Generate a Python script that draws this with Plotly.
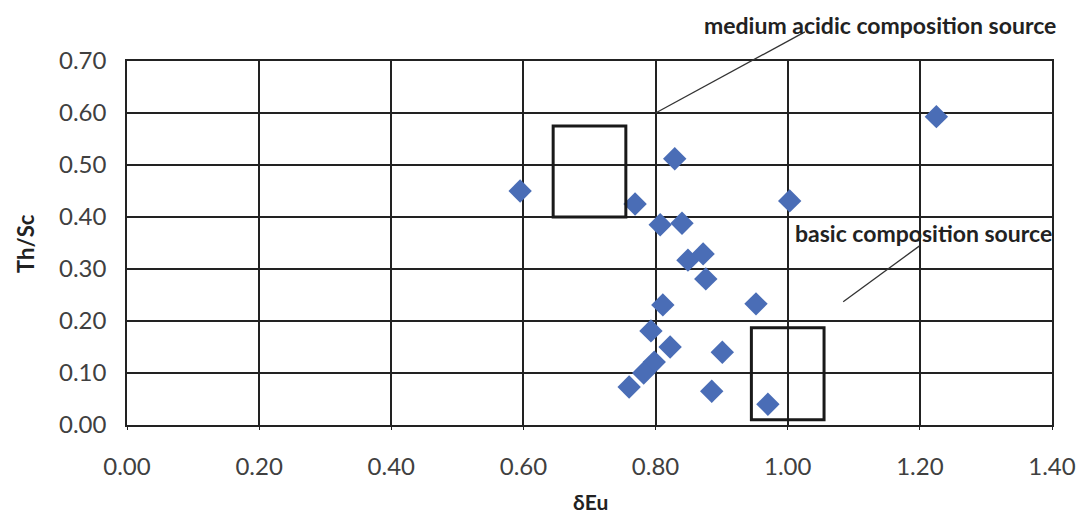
import plotly.graph_objects as go

# Data
delta_eu = [0.595, 1.225, 0.829, 0.769, 0.807, 0.840, 1.003, 0.849, 0.872, 0.876,
            0.811, 0.952, 0.793, 0.822, 0.901, 0.798, 0.782, 0.760, 0.885, 0.970]
th_sc = [0.450, 0.593, 0.512, 0.425, 0.385, 0.388, 0.431, 0.317, 0.329, 0.281,
         0.231, 0.233, 0.181, 0.150, 0.140, 0.121, 0.100, 0.073, 0.065, 0.040]

x_ticks = [0.0, 0.2, 0.4, 0.6, 0.8, 1.0, 1.2, 1.4]
y_ticks = [0.0, 0.1, 0.2, 0.3, 0.4, 0.5, 0.6, 0.7]

# Source fields (boxes): x0, x1, y0, y1
acidic_box = [0.645, 0.755, 0.40, 0.575]
basic_box = [0.945, 1.055, 0.01, 0.187]

acidic_label = "medium acidic composition source"
basic_label = "basic composition source"

# leader line endpoints (data units)
acidic_leader = [0.80, 0.60, 1.026, 0.756]
basic_leader = [1.084, 0.237, 1.199, 0.344]

X_RANGE = [0.0, 1.4]
Y_RANGE = [0.0, 0.7]

W, H = 1078, 515
ML, MT = 127, 61
PW, PH = 925, 364
MR = W - ML - PW
MB = H - MT - PH


def to_paper(x, y):
    px = (x - X_RANGE[0]) / (X_RANGE[1] - X_RANGE[0])
    py = (y - Y_RANGE[0]) / (Y_RANGE[1] - Y_RANGE[0])
    return px, py


def win_to_paper(px, py):
    # window pixel -> paper coordinates
    return (px - ML) / PW, (MT + PH - py) / PH


fig = go.Figure()
fig.add_trace(go.Scatter(
    x=delta_eu, y=th_sc, mode="markers",
    marker=dict(symbol="diamond", size=18, color="#4A6DB6",
                line=dict(width=0)),
    cliponaxis=False, showlegend=False,
))

shapes = []
for b in (acidic_box, basic_box):
    shapes.append(dict(type="rect", xref="x", yref="y", x0=b[0], x1=b[1], y0=b[2], y1=b[3],
                       line=dict(color="#1a1a1a", width=3), layer="above"))

for ld in (acidic_leader, basic_leader):
    p0 = to_paper(ld[0], ld[1])
    p1 = to_paper(ld[2], ld[3])
    shapes.append(dict(type="line", xref="paper", yref="paper",
                       x0=p0[0], y0=p0[1], x1=p1[0], y1=p1[1],
                       line=dict(color="#333333", width=1.3), layer="above"))

ax1, ay1 = win_to_paper(880, 25)
ax2, ay2 = win_to_paper(923, 233)
ax3, ay3 = win_to_paper(25, 244)
ax4, ay4 = win_to_paper(590, 502)

annotations = [
    dict(text=f"<b>{acidic_label}</b>", xref="paper", yref="paper",
         x=ax1, y=ay1, showarrow=False,
         font=dict(family="Lato", size=23, color="#222222"), xanchor="center", yanchor="middle"),
    dict(text=f"<b>{basic_label}</b>", xref="paper", yref="paper",
         x=ax2, y=ay2, showarrow=False,
         font=dict(family="Lato", size=23, color="#222222"), xanchor="center", yanchor="middle"),
    dict(text="<b>Th/Sc</b>", xref="paper", yref="paper",
         x=ax3, y=ay3, showarrow=False, textangle=-90,
         font=dict(family="Lato", size=22, color="#222222"), xanchor="center", yanchor="middle"),
    dict(text="<b>δEu</b>", xref="paper", yref="paper",
         x=ax4, y=ay4, showarrow=False,
         font=dict(family="Lato", size=21, color="#222222"), xanchor="center", yanchor="middle"),
]

fig.update_layout(
    width=W, height=H,
    margin=dict(l=ML, r=MR, t=MT, b=MB, pad=0, autoexpand=False),
    paper_bgcolor="white", plot_bgcolor="white",
    shapes=shapes, annotations=annotations,
    font=dict(family="Lato", size=24, color="#404040"),
)
fig.update_xaxes(
    range=X_RANGE, tickvals=x_ticks, ticktext=[f"{v:.2f}" for v in x_ticks],
    showgrid=True, gridcolor="#222222", gridwidth=1.5,
    showline=True, linecolor="#222222", linewidth=1.5, mirror=True,
    ticks="outside", ticklen=3, tickcolor="#222222", ticklabelstandoff=16,
    automargin=False, zeroline=False,
)
fig.update_yaxes(
    range=Y_RANGE, tickvals=y_ticks, ticktext=[f"{v:.2f}" for v in y_ticks],
    showgrid=True, gridcolor="#222222", gridwidth=1.5,
    showline=True, linecolor="#222222", linewidth=1.5, mirror=True,
    ticks="", ticklabelstandoff=14,
    automargin=False, zeroline=False,
)

# remove the default page margin so the figure fills the 1078x515 window exactly
fig.write_html("out.html", config={"displayModeBar": False},
               post_script="document.body.style.margin='0';")
